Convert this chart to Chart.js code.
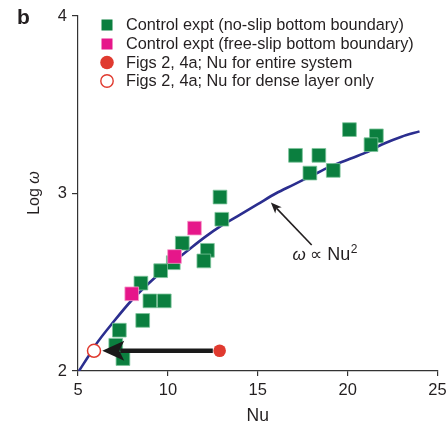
<!DOCTYPE html>
<html>
<head>
<meta charset="utf-8">
<script src="https://cdn.jsdelivr.net/npm/chart.js@4/dist/chart.umd.min.js"></script>
<style>
  html, body { margin: 0; padding: 0; background: #fff; }
  #wrap { width: 448px; height: 427px; position: relative; }
</style>
</head>
<body>
<div id="wrap"><canvas id="c" width="448" height="427"></canvas></div>
<script>
// ---- Data ----
const xTicks = [5, 10, 15, 20, 25];
const yTicks = [2, 3, 4];

// Control expt (no-slip bottom boundary)
const noSlipNu   = [12.9, 13.0, 10.8, 12.2, 12.0, 10.3, 9.6, 8.5, 9.0, 9.8, 8.6, 7.3, 7.1, 7.5, 20.1, 21.6, 21.3, 17.1, 18.4, 17.9, 19.2];
const noSlipLogW = [2.98, 2.855, 2.72, 2.68, 2.62, 2.61, 2.565, 2.495, 2.395, 2.395, 2.285, 2.23, 2.145, 2.07, 3.36, 3.325, 3.275, 3.215, 3.215, 3.115, 3.13];

// Control expt (free-slip bottom boundary)
const freeSlipNu   = [11.48, 10.37, 7.99];
const freeSlipLogW = [2.805, 2.645, 2.435];

// Figs 2, 4a; Nu for entire system
const entireNu   = [12.88];
const entireLogW = [2.114];

// Figs 2, 4a; Nu for dense layer only
const denseNu   = [5.89];
const denseLogW = [2.114];

// omega ∝ Nu^2 curve
const curveNu   = [5.05, 5.5, 6, 7, 8, 9, 10, 11, 12, 13, 14, 15, 16, 17, 18, 19, 20, 21, 22, 23, 24];
const curveLogW = [2.00, 2.07, 2.15, 2.28, 2.40, 2.50, 2.59, 2.67, 2.75, 2.82, 2.88, 2.94, 3.00, 3.05, 3.10, 3.15, 3.19, 3.23, 3.28, 3.32, 3.35];

const legendLabels = [
  'Control expt (no-slip bottom boundary)',
  'Control expt (free-slip bottom boundary)',
  'Figs 2, 4a; Nu for entire system',
  'Figs 2, 4a; Nu for dense layer only'
];

// annotation anchors (data coordinates)
const shiftArrow = { from: [12.5, 2.114], to: [6.35, 2.114] };
const lawArrow   = { from: [18.0, 2.71], to: [15.73, 2.95] };
const lawLabelAt = [16.93, 2.625];

// ---- Build ----
const zip = (xs, ys) => xs.map((x, i) => ({ x, y: ys[i] }));

const GREEN = '#0b7f3f', PINK = '#e6168a', RED = '#e03a2f', BLUE = '#2b2e8f', INK = '#231f20';
const FONT = "'Liberation Sans', Arial, Helvetica, sans-serif";

const decor = {
  id: 'decor',
  afterDraw(chart) {
    const ctx = chart.ctx;
    const xs = chart.scales.x, ys = chart.scales.y;
    const px = v => xs.getPixelForValue(v), py = v => ys.getPixelForValue(v);
    ctx.save();

    // panel letter
    ctx.fillStyle = INK;
    ctx.font = 'bold 21px ' + FONT;
    ctx.textBaseline = 'alphabetic';
    ctx.textAlign = 'left';
    ctx.fillText('b', 17, 24);

    // y-axis title "Log ω" with italic ω
    ctx.save();
    ctx.translate(39, 193);
    ctx.rotate(-Math.PI / 2);
    ctx.font = '16px ' + FONT;
    const w1 = ctx.measureText('Log ').width;
    ctx.font = 'italic 16px ' + FONT;
    const w2 = ctx.measureText('ω').width;
    let sx = -(w1 + w2) / 2;
    ctx.font = '16px ' + FONT;
    ctx.fillText('Log ', sx, 0);
    ctx.font = 'italic 16px ' + FONT;
    ctx.fillText('ω', sx + w1, 0);
    ctx.restore();

    // legend
    const lx = 107, tx = 126, rows = [25, 44, 62.5, 81];
    ctx.font = '16.3px ' + FONT;
    ctx.textBaseline = 'middle';
    legendLabels.forEach((lab, i) => {
      const y = rows[i];
      if (i === 0 || i === 1) {
        ctx.fillStyle = i === 0 ? GREEN : PINK;
        ctx.fillRect(lx - 5.5, y - 5.5, 11, 11);
      } else if (i === 2) {
        ctx.fillStyle = RED;
        ctx.beginPath(); ctx.arc(lx, y, 6.8, 0, Math.PI * 2); ctx.fill();
      } else {
        ctx.strokeStyle = RED; ctx.lineWidth = 1.4;
        ctx.beginPath(); ctx.arc(lx, y, 6.2, 0, Math.PI * 2); ctx.stroke();
      }
      ctx.fillStyle = INK;
      ctx.fillText(lab, tx, y + 1);
    });

    // big shift arrow
    {
      const x0 = px(shiftArrow.from[0]), y0 = py(shiftArrow.from[1]);
      const x1 = px(shiftArrow.to[0]), y1 = py(shiftArrow.to[1]);
      ctx.strokeStyle = '#1a1a1a'; ctx.fillStyle = '#1a1a1a';
      ctx.lineWidth = 4.3;
      ctx.beginPath(); ctx.moveTo(x0, y0); ctx.lineTo(x1 + 18, y1); ctx.stroke();
      ctx.beginPath();
      ctx.moveTo(x1, y1);
      ctx.lineTo(x1 + 22, y1 - 10);
      ctx.lineTo(x1 + 17, y1);
      ctx.lineTo(x1 + 22, y1 + 10);
      ctx.closePath(); ctx.fill();
    }

    // law arrow
    {
      const x0 = px(lawArrow.from[0]), y0 = py(lawArrow.from[1]);
      const x1 = px(lawArrow.to[0]), y1 = py(lawArrow.to[1]);
      const ang = Math.atan2(y1 - y0, x1 - x0);
      ctx.strokeStyle = INK; ctx.fillStyle = INK; ctx.lineWidth = 1.6;
      ctx.beginPath(); ctx.moveTo(x0, y0);
      ctx.lineTo(x1 - 8 * Math.cos(ang), y1 - 8 * Math.sin(ang)); ctx.stroke();
      const L = 11, W = 4.5;
      const bx = x1 - L * Math.cos(ang), by = y1 - L * Math.sin(ang);
      ctx.beginPath();
      ctx.moveTo(x1, y1);
      ctx.lineTo(bx + W * Math.sin(ang), by - W * Math.cos(ang));
      ctx.lineTo(x1 - 8 * Math.cos(ang), y1 - 8 * Math.sin(ang));
      ctx.lineTo(bx - W * Math.sin(ang), by + W * Math.cos(ang));
      ctx.closePath(); ctx.fill();
    }

    // law label "ω ∝ Nu²"
    {
      let x = px(lawLabelAt[0]); const y = py(lawLabelAt[1]);
      ctx.textBaseline = 'alphabetic'; ctx.textAlign = 'left'; ctx.fillStyle = INK;
      ctx.font = 'italic 17px ' + FONT;
      ctx.fillText('ω', x, y); x += ctx.measureText('ω ').width;
      ctx.font = '17px ' + FONT;
      ctx.fillText('∝', x, y); x += ctx.measureText('∝ ').width;
      ctx.font = '18px ' + FONT;
      ctx.fillText('Nu', x, y); x += ctx.measureText('Nu').width + 0.5;
      ctx.font = '12px ' + FONT;
      ctx.fillText('2', x, y - 7);
    }
    ctx.restore();
  }
};

new Chart(document.getElementById('c'), {
  type: 'scatter',
  data: {
    datasets: [
      { label: legendLabels[3], data: zip(denseNu, denseLogW), pointStyle: 'circle', pointRadius: 6.5,
        backgroundColor: '#ffffff', borderColor: RED, pointBorderWidth: 1.5, order: 0 },
      { label: legendLabels[2], data: zip(entireNu, entireLogW), pointStyle: 'circle', pointRadius: 6.3,
        backgroundColor: RED, borderColor: RED, pointBorderWidth: 0, order: 1 },
      { label: legendLabels[1], data: zip(freeSlipNu, freeSlipLogW), pointStyle: 'rect', pointRadius: 9.7,
        backgroundColor: PINK, borderColor: '#f5a0cc', pointBorderWidth: 0.8, order: 2 },
      { label: legendLabels[0], data: zip(noSlipNu, noSlipLogW), pointStyle: 'rect', pointRadius: 9.7,
        backgroundColor: GREEN, borderColor: '#7cc49a', pointBorderWidth: 0.8, order: 3 },
      { type: 'line', label: 'curve', data: zip(curveNu, curveLogW), borderColor: BLUE, borderWidth: 2.6,
        pointRadius: 0, fill: false, cubicInterpolationMode: 'monotone', order: 4 }
    ]
  },
  options: {
    responsive: false,
    animation: false,
    devicePixelRatio: 1,
    layout: { padding: { top: 16, right: 8, left: 0, bottom: 0 } },
    plugins: { legend: { display: false }, tooltip: { enabled: false } },
    scales: {
      x: {
        type: 'linear', min: 5, max: 25,
        afterBuildTicks: s => { s.ticks = xTicks.map(v => ({ value: v })); },
        ticks: { color: INK, font: { family: FONT, size: 16.5 }, padding: 5 },
        grid: { drawOnChartArea: false, drawTicks: true, tickLength: 5, color: '#333', lineWidth: 1.2 },
        border: { color: '#333', width: 1.2 },
        title: { display: true, text: 'Nu', color: INK, font: { family: FONT, size: 17.5 }, padding: { top: 0, bottom: 0 } },
        afterFit: s => { s.height = 56; s.paddingLeft = 0; s.paddingRight = 0; }
      },
      y: {
        type: 'linear', min: 2, max: 4,
        afterBuildTicks: s => { s.ticks = yTicks.map(v => ({ value: v })); },
        ticks: { color: INK, font: { family: FONT, size: 16.5 }, padding: 5 },
        grid: { drawOnChartArea: false, drawTicks: true, tickLength: 6, color: '#333', lineWidth: 1.2 },
        border: { color: '#333', width: 1.2 },
        afterFit: s => { s.width = 78; s.paddingTop = 0; s.paddingBottom = 0; }
      }
    }
  },
  plugins: [decor]
});
</script>
</body>
</html>
